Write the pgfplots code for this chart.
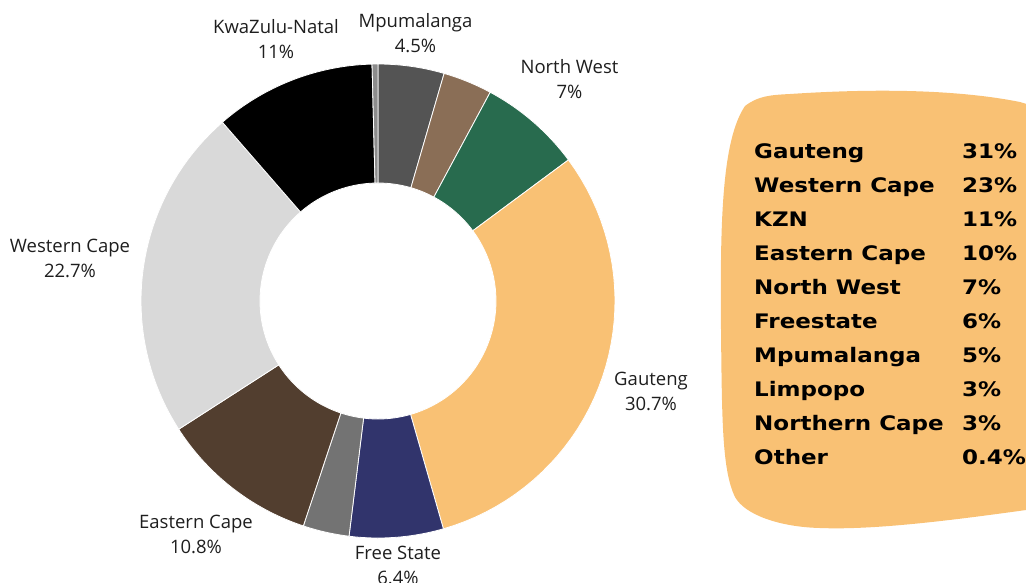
\documentclass[border=0pt]{standalone}
\usepackage{fontspec}
\setmainfont{Open Sans}
\newfontfamily\legfont[FakeStretch=1.15]{DejaVu Sans}
\usepackage{pgfplots}
\pgfplotsset{compat=1.18}
\definecolor{cMpu}{HTML}{545454}
\definecolor{cLim}{HTML}{8A6E56}
\definecolor{cNW}{HTML}{286B4E}
\definecolor{cGau}{HTML}{F9C174}
\definecolor{cFS}{HTML}{31346C}
\definecolor{cNC}{HTML}{737373}
\definecolor{cEC}{HTML}{523E2F}
\definecolor{cWC}{HTML}{D9D9D9}
\definecolor{cKZN}{HTML}{000000}
\definecolor{cOth}{HTML}{8C8C8C}
\definecolor{blob}{HTML}{F9C174}
\definecolor{lbl}{HTML}{1E1E1E}
% slice: value (percent), colour
\newcommand\slice[2]{%
  \pgfmathsetmacro\sEnd{\sStart+#1}%
  \edef\doslice{\noexpand\addplot[fill=#2, draw=white, line width=0.8pt, domain=0:4, samples=161, variable=\noexpand\t]
    ({378+srad(\noexpand\t)*sin(sang(\noexpand\t,\sStart,\sEnd))},{301-srad(\noexpand\t)*cos(sang(\noexpand\t,\sStart,\sEnd))});}%
  \doslice
  \global\let\sStart\sEnd
}
\newcommand\lab[4]{% x, baseline1, line1, line2
  \node[anchor=base, text=lbl, font=\fontsize{18.5}{22}\selectfont, inner sep=0pt] at (axis cs:#1,#2) {#3};
  \node[anchor=base, text=lbl, font=\fontsize{18.5}{22}\selectfont, inner sep=0pt] at (axis cs:#1,#2+25) {#4};
}
\newcommand\leg[3]{% baseline, name, pct
  \node[anchor=base west, inner sep=0pt, font=\legfont\bfseries\fontsize{20}{24}\selectfont] at (axis cs:754,#1) {#2};
  \node[anchor=base west, inner sep=0pt, font=\legfont\bfseries\fontsize{20}{24}\selectfont] at (axis cs:962,#1) {#3};
}
\begin{document}
\begin{tikzpicture}
\useasboundingbox (0,0) rectangle (1026pt,582pt);
\clip (0,0) rectangle (1026pt,582pt);
\begin{axis}[at={(0,0)}, anchor=south west, scale only axis,
  width=1026pt, height=582pt, xmin=0, xmax=1026, ymin=0, ymax=582,
  y dir=reverse, hide axis, clip=false,
  declare function={
    sang(\myT,\myS,\myE)=3.6*(\myT<1 ? \myS+(\myE-\myS)*\myT : (\myT<2 ? \myE : (\myT<3 ? \myE-(\myE-\myS)*(\myT-2) : \myS)));
    srad(\myT)=(\myT<1 ? 237 : (\myT<2 ? 237-119*(\myT-1) : (\myT<3 ? 118 : 118+119*(\myT-3))));
  }]
\gdef\sStart{0}
\slice{4.5}{cMpu}   % Mpumalanga
\slice{3.35}{cLim}  % Limpopo
\slice{7}{cNW}      % North West
\slice{30.7}{cGau}  % Gauteng
\slice{6.4}{cFS}    % Free State
\slice{3.15}{cNC}   % Northern Cape
\slice{10.8}{cEC}   % Eastern Cape
\slice{22.7}{cWC}   % Western Cape
\slice{11}{cKZN}    % KwaZulu-Natal
\slice{0.4}{cOth}   % Other

\lab{276}{33}{KwaZulu-Natal}{11\%}
\lab{415.5}{27}{Mpumalanga}{4.5\%}
\lab{569.5}{73}{North West}{7\%}
\lab{70}{252}{Western Cape}{22.7\%}
\lab{651}{385.5}{Gauteng}{30.7\%}
\lab{196}{528}{Eastern Cape}{10.8\%}
\lab{398}{559}{Free State}{6.4\%}

\fill[blob] (axis cs:721,330) .. controls (axis cs:720,220) and (axis cs:722,140) .. (axis cs:745,106)
  .. controls (axis cs:758,96) and (axis cs:770,95) .. (axis cs:790,94)
  .. controls (axis cs:880,88) and (axis cs:960,90) .. (axis cs:1020,102)
  -- (axis cs:1040,108) -- (axis cs:1040,505) -- (axis cs:1026,510)
  .. controls (axis cs:940,522) and (axis cs:870,530) .. (axis cs:820,528)
  .. controls (axis cs:780,527) and (axis cs:745,515) .. (axis cs:735,497)
  .. controls (axis cs:722,470) and (axis cs:722,420) .. cycle;

\leg{158}{Gauteng}{31\%}
\leg{192}{Western Cape}{23\%}
\leg{226}{KZN}{11\%}
\leg{260}{Eastern Cape}{10\%}
\leg{294}{North West}{7\%}
\leg{328}{Freestate}{6\%}
\leg{362}{Mpumalanga}{5\%}
\leg{396}{Limpopo}{3\%}
\leg{430}{Northern Cape}{3\%}
\leg{464}{Other}{0.4\%}
\end{axis}
\end{tikzpicture}
\end{document}
